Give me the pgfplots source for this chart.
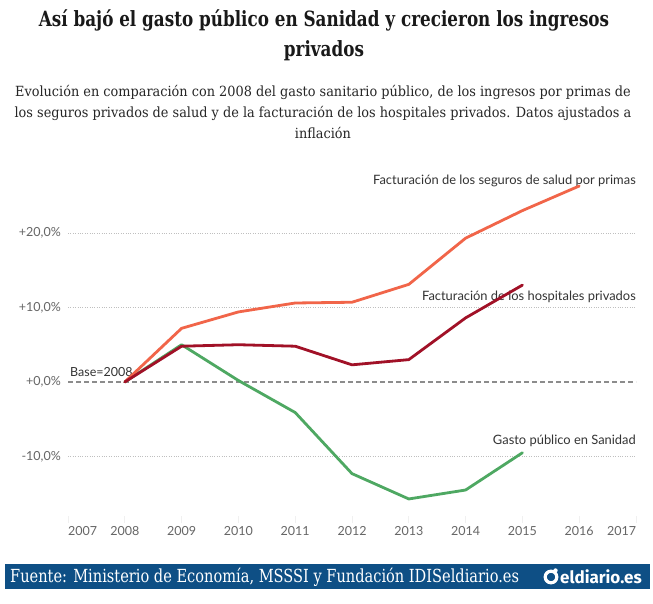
\documentclass[border=0pt]{standalone}
\usepackage{pgfplots}
\pgfplotsset{compat=1.18}
\usepackage{fontspec}
\setmainfont{DejaVu Serif}
\newfontfamily\titlefont[FakeStretch=0.8]{DejaVu Serif}
\newfontfamily\subfont[FakeStretch=0.92]{DejaVu Serif}
\newfontfamily\footfont[FakeStretch=0.81]{DejaVu Serif}
\newfontfamily\chartfont{Lato}
\newfontfamily\logofont{Fira Sans}

\definecolor{primas}{HTML}{F16549}
\definecolor{hospital}{HTML}{A11127}
\definecolor{publico}{HTML}{4EA862}
\definecolor{footerblue}{HTML}{0E4F85}
\definecolor{ticktext}{HTML}{666666}
\definecolor{labeltext}{HTML}{333333}

\begin{document}
\begin{tikzpicture}
\path[fill=white,use as bounding box] (0pt,0pt) rectangle (653pt,604pt);

% title and subtitle
\node[align=center,font=\titlefont\bfseries\fontsize{21}{30}\selectfont,text=black!90]
  at (324pt,569pt) {Así bajó el gasto público en Sanidad y crecieron los ingresos\\privados};
\node[align=center,font=\subfont\fontsize{14}{21}\selectfont,text=black!85]
  at (323pt,492pt) {Evolución en comparación con 2008 del gasto sanitario público, de los ingresos por primas de\\
  los seguros privados de salud y de la facturación de los hospitales privados. Datos ajustados a\\
  inflación};

\begin{axis}[
  at={(68pt,87.9pt)}, anchor=south west,
  scale only axis, width=568pt, height=335.3pt,
  xmin=2007, xmax=2017, ymin=-18, ymax=27,
  clip=false,
  axis line style={draw=none},
  tick align=outside,
  tick pos=left,
  major tick length=7pt,
  xtick={2007,2008,...,2017},
  xticklabels={\rlap{2007},2008,2009,2010,2011,2012,2013,2014,2015,2016,\llap{2017}},
  xtick style={draw=black!6,line width=0.8pt},
  ytick={-10,10,20},
  yticklabels={-10{,}0\%,+10{,}0\%,+20{,}0\%},
  ytick style={draw=none},
  extra y ticks={0},
  extra y tick labels={+0{,}0\%},
  extra y tick style={grid style={dashed,draw=black!45,line width=1.3pt,dash pattern=on 5pt off 3pt}},
  ymajorgrids,
  grid style={dotted,draw=black!25,line width=0.8pt},
  ticklabel style={font=\chartfont\fontsize{12.5}{14}\selectfont,text=ticktext},
  yticklabel style={anchor=east,inner sep=0pt,xshift=0pt},
  xticklabel style={anchor=north,inner sep=0pt,yshift=-3pt},
  every axis plot/.append style={line width=2.8pt,line join=round,line cap=round,mark=none},
]
% series labels, drawn beneath the lines
\node[anchor=base east,inner sep=0pt,font=\chartfont\fontsize{12.5}{14}\selectfont,text=labeltext]
  at (axis cs:2008,0) [xshift=8pt,yshift=5pt] {Base=2008};
\node[anchor=east,inner sep=0pt,font=\chartfont\fontsize{12.9}{14}\selectfont,text=labeltext]
  at (axis cs:2017,27.0) {Facturación de los seguros de salud por primas};
\node[anchor=east,inner sep=0pt,font=\chartfont\fontsize{12.9}{14}\selectfont,text=labeltext]
  at (axis cs:2017,11.4) {Facturación de los hospitales privados};
\node[anchor=east,inner sep=0pt,font=\chartfont\fontsize{12.9}{14}\selectfont,text=labeltext]
  at (axis cs:2017,-7.9) {Gasto público en Sanidad};

% public health spending
\addplot[publico] coordinates {
  (2008,0) (2009,5.0) (2010,0.2) (2011,-4.1) (2012,-12.3) (2013,-15.7) (2014,-14.5) (2015,-9.5)};
% private health insurance premiums
\addplot[primas] coordinates {
  (2008,0) (2009,7.2) (2010,9.4) (2011,10.6) (2012,10.7) (2013,13.1) (2014,19.3) (2015,23.0) (2016,26.3)};
% private hospital turnover
\addplot[hospital] coordinates {
  (2008,0) (2009,4.8) (2010,5.0) (2011,4.8) (2012,2.3) (2013,3.0) (2014,8.6) (2015,13.0)};
\end{axis}

% source bar
\fill[footerblue] (5pt,14.5pt) rectangle (650pt,40pt);
\node[anchor=west,inner sep=0pt,text=white,font=\footfont\fontsize{18}{20}\selectfont]
  at (10pt,27pt) {Fuente: Ministerio de Economía, MSSSI y Fundación IDISeldiario.es};
\draw[white,line width=3.2pt] (551pt,27pt) circle (5.8pt);
\fill[white] (555.5pt,33.5pt) circle (2.2pt);
\node[anchor=west,inner sep=0pt,text=white,font=\logofont\bfseries\fontsize{17}{18}\selectfont]
  at (560pt,27.5pt) {eldiario.es};
\end{tikzpicture}
\end{document}
